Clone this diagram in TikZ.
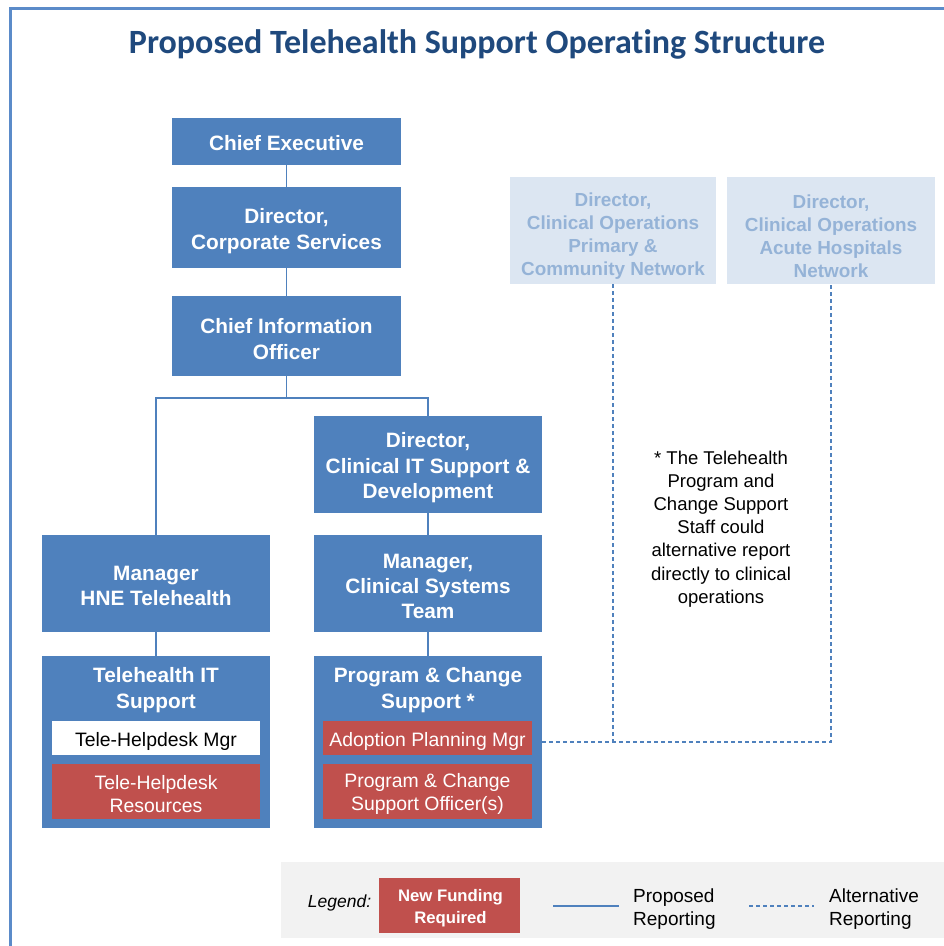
\documentclass[tikz,border=0pt]{standalone}
\usepackage{fontspec}
\setmainfont{Liberation Sans}
\newfontfamily\titlefont[Ligatures=NoCommon]{Carlito}
\definecolor{boxblue}{HTML}{4F81BD}
\definecolor{fundred}{HTML}{C0504D}
\definecolor{paleblue}{HTML}{DCE6F2}
\definecolor{paletext}{HTML}{95B3D7}
\definecolor{titleblue}{HTML}{1F497D}
\definecolor{legendgrey}{HTML}{F2F2F2}
\definecolor{framecol}{HTML}{5B8BC9}
\tikzset{
  orgbox/.style={fill=boxblue, inner sep=0pt},
  orgtext/.style={text=white, inner sep=0pt, align=center,
    font=\fontsize{20.8}{25.5}\selectfont\bfseries},
  sidebox/.style={fill=paleblue, inner sep=0pt},
  sidetext/.style={text=paletext, inner sep=0pt, align=center,
    font=\fontsize{18.9}{23}\selectfont\bfseries},
  subbox/.style={inner sep=0pt, minimum height=34pt},
  subtext/.style={inner sep=0pt, align=center,
    font=\fontsize{19.4}{23}\selectfont},
  report/.style={draw=boxblue, line width=1.2pt},
  altreport/.style={draw=boxblue, line width=1.2pt, dash pattern=on 4pt off 3pt},
  plain/.style={inner sep=0pt, align=left, font=\fontsize{19}{23}\selectfont}
}
\begin{document}
\begin{tikzpicture}[x=1pt,y=-1pt]
\useasboundingbox (0,0) rectangle (944,946);
\fill[white] (0,0) rectangle (944,946);
% outer frame
\draw[framecol, line width=3pt] (10,946) -- (10,8) -- (944,8);

% title
\node[text=titleblue, font=\titlefont\fontsize{34}{40}\selectfont\bfseries]
  (title) at (477,44) {Proposed Telehealth Support Operating Structure};

% main line of reporting
\node[orgbox, minimum width=229pt, minimum height=47pt] (ce) at (286.5,141.5) {};
\node[orgtext] (ce-t) at (286.5,143) {Chief Executive};
\node[orgbox, minimum width=229pt, minimum height=81pt] (dcs) at (286.5,227.5) {};
\node[orgtext] (dcs-t) at (286.5,231) {Director,\\Corporate Services};
\node[orgbox, minimum width=229pt, minimum height=80pt] (cio) at (286.5,336) {};
\node[orgtext] (cio-t) at (286.5,339) {Chief Information\\Officer};
\node[orgbox, minimum width=228pt, minimum height=97pt] (dcit) at (428,464.5) {};
\node[orgtext] (dcit-t) at (428,468) {Director,\\Clinical IT Support \&\\Development};
\node[orgbox, minimum width=228pt, minimum height=97pt] (mhne) at (156,583.5) {};
\node[orgtext] (mhne-t) at (156,586) {Manager\\HNE Telehealth};
\node[orgbox, minimum width=228pt, minimum height=97pt] (mcst) at (428,583.5) {};
\node[orgtext, font=\fontsize{20.8}{25}\selectfont\bfseries] (mcst-t) at (428,586.5) {Manager,\\Clinical Systems\\Team};

% team boxes
\node[orgbox, minimum width=228pt, minimum height=172pt] (tis) at (156,742) {};
\node[orgtext] (tis-t) at (156,690) {Telehealth IT\\Support};
\node[subbox, fill=white, minimum width=208pt] (thm) at (156,738) {};
\node[subtext, text=black] (thm-t) at (156,741) {Tele-Helpdesk Mgr};
\node[subbox, fill=fundred, minimum width=208pt, minimum height=55pt] (thr) at (156,791.5) {};
\node[subtext, text=white] (thr-t) at (156,794) {Tele-Helpdesk\\Resources};

\node[orgbox, minimum width=228pt, minimum height=172pt] (pcs) at (428,742) {};
\node[orgtext] (pcs-t) at (428,690) {Program \& Change\\Support *};
\node[subbox, fill=fundred, minimum width=209pt] (apm) at (427.5,738) {};
\node[subtext, text=white] (apm-t) at (427.5,741) {Adoption Planning Mgr};
\node[subbox, fill=fundred, minimum width=209pt, minimum height=55pt] (pco) at (427.5,791.5) {};
\node[subtext, text=white] (pco-t) at (427.5,794) {Program \& Change\\Support Officer(s)};

% clinical operations directors
\node[sidebox, minimum width=206pt, minimum height=107pt] (cop) at (613,230.5) {};
\node[sidetext] (cop-t) at (613,236.5) {Director,\\Clinical Operations\\Primary \&\\Community Network};
\node[sidebox, minimum width=208pt, minimum height=107pt] (coa) at (831,230.5) {};
\node[sidetext] (coa-t) at (831,236.5) {Director,\\Clinical Operations\\Acute Hospitals\\Network};

% proposed reporting lines
\coordinate (bus) at (286.5,398);
\draw[report] (ce) -- (dcs);
\draw[report] (dcs) -- (cio);
\draw[report] (cio) -- (bus);
\draw[report] (mhne.north) -- (mhne.north |- bus) -- (dcit.north |- bus) -- (dcit.north);
\draw[report] (dcit) -- (mcst);
\draw[report] (mcst) -- (pcs);
\draw[report] (mhne) -- (tis);

% alternative reporting lines
\draw[altreport] (pcs.east) -- (coa.south |- pcs.east) -- (coa.south);
\draw[altreport] (cop.south) -- (cop.south |- pcs.east);

% note
\node[inner sep=0pt, align=center, font=\fontsize{18.5}{23.2}\selectfont] (note) at (721,529)
  {* The Telehealth\\Program and\\Change Support\\Staff could\\alternative report\\directly to clinical\\operations};

% legend
\node[fill=legendgrey, minimum width=663pt, minimum height=76pt, inner sep=0pt] (legend) at (612.5,900) {};
\node[inner sep=0pt, font=\fontsize{17.5}{20}\selectfont\itshape] (legtitle) at (339.5,903) {Legend:};
\node[fill=fundred, minimum width=141pt, minimum height=55pt, inner sep=0pt] (legfund) at (449.5,905.5) {};
\node[text=white, inner sep=0pt, align=center, font=\fontsize{16.7}{22}\selectfont\bfseries]
  (legfund-t) at (450.5,908.5) {New Funding\\Required};
\coordinate (solidA) at (553,906);
\coordinate (solidB) at (619,906);
\draw[report] (solidA) -- (solidB);
\node[plain, anchor=west] (legsolid) at (633,909.5) {Proposed\\Reporting};
\coordinate (dashA) at (749,906);
\coordinate (dashB) at (814,906);
\draw[altreport] (dashA) -- (dashB);
\node[plain, anchor=west] (legdash) at (829,909.5) {Alternative\\Reporting};
\end{tikzpicture}
\end{document}
